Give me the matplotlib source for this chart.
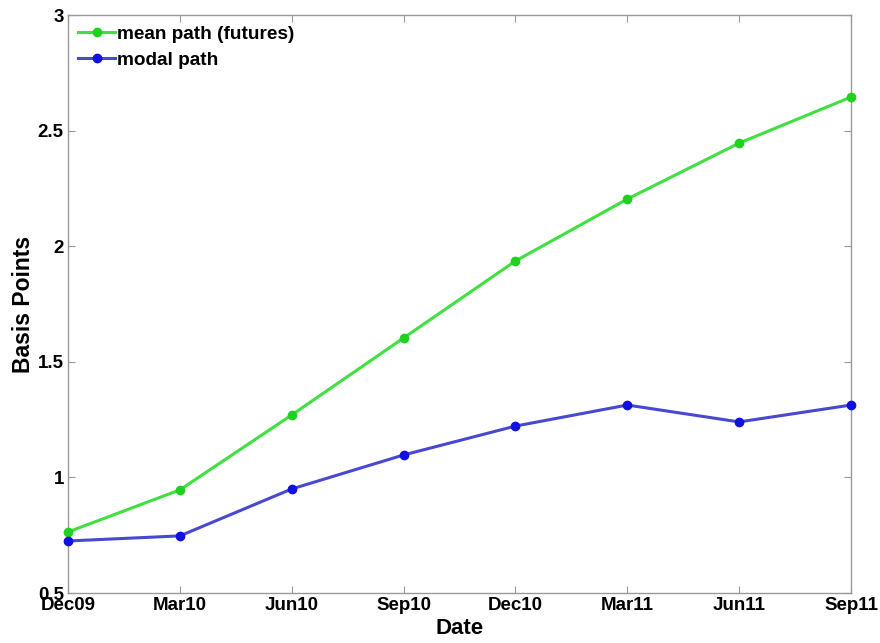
import matplotlib
matplotlib.use("Agg")
import matplotlib.pyplot as plt

dates = ["Dec09", "Mar10", "Jun10", "Sep10", "Dec10", "Mar11", "Jun11", "Sep11"]
mean_path = [0.764, 0.946, 1.270, 1.603, 1.936, 2.204, 2.446, 2.645]
modal_path = [0.725, 0.747, 0.950, 1.097, 1.222, 1.313, 1.240, 1.313]

plt.rcParams['font.family'] = ['Liberation Sans', 'DejaVu Sans']
plt.rcParams['font.weight'] = 'bold'

fig = plt.figure(figsize=(8.8, 6.43), dpi=100)
ax = fig.add_axes([68/880, 50/643, 783/880, 578/643])
x = list(range(len(dates)))
ax.plot(x, mean_path, '-', color='#3fe03f', lw=2.2, marker='o', ms=6,
        mfc='#1ed21e', mec='#1ed21e', label='mean path (futures)', clip_on=False, zorder=3)
ax.plot(x, modal_path, '-', color='#4848d0', lw=2.2, marker='o', ms=6,
        mfc='#1010e0', mec='#1010e0', label='modal path', clip_on=False, zorder=3)

ax.set_xlim(0, len(dates) - 1)
ax.set_ylim(0.5, 3)
ax.set_xticks(x)
ax.set_xticklabels(dates)
ax.set_yticks([0.5, 1, 1.5, 2, 2.5, 3])
ax.set_yticklabels(['0.5', '1', '1.5', '2', '2.5', '3'])
ax.tick_params(direction='in', top=True, right=True, length=5, width=0.8,
               color='#999999', labelsize=13.5, pad=3)
for s in ax.spines.values():
    s.set_color('#999999')
    s.set_linewidth(1.0)
for lab in ax.get_xticklabels() + ax.get_yticklabels():
    lab.set_fontweight('bold')

ax.set_xlabel('Date', fontsize=16, fontweight='bold', labelpad=3)
ax.set_ylabel('Basis Points', fontsize=16.5, fontweight='bold', labelpad=2)

leg = ax.legend(loc='upper left', frameon=False, fontsize=13.7, handlelength=1.9,
                handletextpad=0.15, borderaxespad=0.15, labelspacing=0.45,
                bbox_to_anchor=(0.0, 1.0))
for t in leg.get_texts():
    t.set_fontweight('bold')

fig.savefig('out.png', dpi=100)
